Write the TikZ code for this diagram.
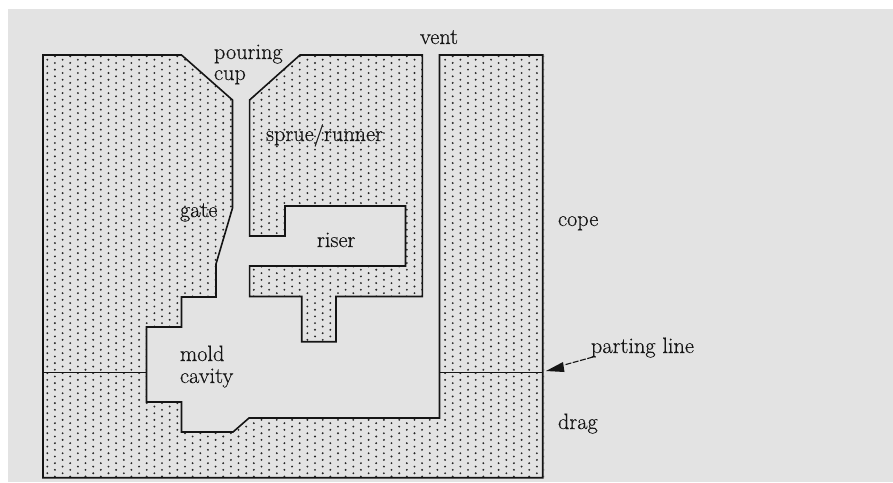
\documentclass[tikz,border=0pt]{standalone}
\usepackage{fontspec}
\usetikzlibrary{arrows.meta}
\newfontfamily\lblfont[FakeBold=0.35]{Latin Modern Roman}
\definecolor{bgrey}{HTML}{E3E3E3}
\definecolor{ink}{HTML}{151515}
\tikzset{
  lbl/.style={anchor=base west,inner sep=0pt,outer sep=0pt,text=ink,font=\lblfont\fontsize{22.3}{26}\selectfont},
  wall/.style={draw=ink,line width=1.6pt,line join=miter},
  thinwall/.style={draw=ink,line width=1.6pt},
  sanddot/.style={fill=black!85}
}
\begin{document}
\begin{tikzpicture}[x=1pt,y=-1pt]
\useasboundingbox (0,0) rectangle (893,482);
\fill[white] (0,0) rectangle (893,482);
\fill[bgrey] (8,9) rectangle (893,482);
% sand dots
\begin{scope}
\clip (42,54.5) rectangle (544,478);
\foreach \k in {0,...,32}{
  \foreach \m in {0,...,63}{
    \fill[sanddot] ({47.3+15.3*\k},{59.7+6.67*\m}) circle (1.05);
    \fill[sanddot] ({54.9+15.3*\k},{56.3+6.67*\m}) circle (1.05);
  }
}
\end{scope}
% cavity
\fill[bgrey] (181.5,53) -- (181.5,55) -- (232.5,100) -- (232.5,208) -- (216,264) -- (216,297) -- (181.5,297) -- (181.5,327) -- (146.5,327) -- (146.5,402) -- (181.5,402) -- (181.5,432) -- (233,432) -- (249,418) -- (439.5,418) -- (439.5,53) -- (422.3,53) -- (422.3,296.5) -- (336,296.5) -- (336,341.7) -- (301.7,341.7) -- (301.7,296.5) -- (249.6,296.5) -- (249.6,266) -- (405.5,266) -- (405.5,206) -- (285,206) -- (285,236) -- (249.6,236) -- (249.6,100) -- (300,55) -- (300,53) -- cycle;
% outlines
\draw[wall] (181.5,55) -- (43,55) -- (43,477.7) -- (542.7,477.7) -- (542.7,55) -- (439.5,55) -- (439.5,418) -- (249,418) -- (233,432) -- (181.5,432) -- (181.5,402) -- (146.5,402) -- (146.5,327) -- (181.5,327) -- (181.5,297) -- (216,297) -- (216,264) -- (232.5,208) -- (232.5,100) -- cycle;
\draw[wall] (300,55) -- (422.3,55) -- (422.3,296.5) -- (336,296.5) -- (336,341.7) -- (301.7,341.7) -- (301.7,296.5) -- (249.6,296.5) -- (249.6,266) -- (405.5,266) -- (405.5,206) -- (285,206) -- (285,236) -- (249.6,236) -- (249.6,100) -- cycle;
\draw[thinwall] (43,372.3) -- (146.5,372.3);
\draw[thinwall] (439.5,372.3) -- (542.7,372.3);
% labels
\node[lbl] (pouring) at (214,59) {pouring};
\node[lbl] (cup) at (214,80) {cup};
\node[lbl] (vent) at (420,44) {vent};
\node[lbl] (sprue) at (266,141) {sprue/runner};
\node[lbl] (gate) at (180,217) {gate};
\node[lbl] (riser) at (317,247) {riser};
\node[lbl] (mold) at (180,361) {mold};
\node[lbl] (cavity) at (180,383) {cavity};
\node[lbl] (cope) at (558,226) {cope};
\node[lbl] (drag) at (558,429) {drag};
\node[lbl] (parting) at (591,353) {parting line};
\coordinate (tip) at (546,371);
\coordinate (headup) at (563,362);
\coordinate (headlow) at (564.5,372);
\coordinate (headback) at (564,365);
\fill[ink] (tip) -- (headup) -- (headlow) -- cycle;
\draw[draw=ink,line width=1.1pt,dash pattern=on 6pt off 1.5pt] (parting.base west) ++(2,4) -- (headback);
\end{tikzpicture}
\end{document}
